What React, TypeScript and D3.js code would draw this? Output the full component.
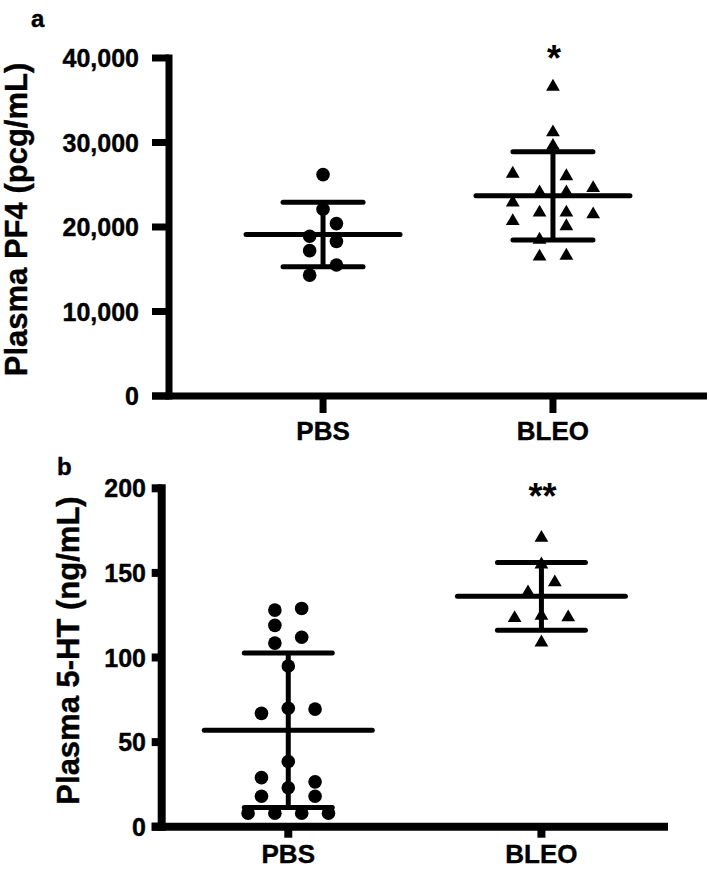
import React from "react";
import * as d3 from "d3";

// ---------- Data ----------
const categories = ["PBS", "BLEO"];

// Panel a: Plasma PF4 (pcg/mL)
const pf4PBS = [26200, 22100, 20400, 18900, 18300, 17200, 15500, 14300];
const pf4PBSLane = [0, 0, 1, -1, 1, -1, 1, -1];
const pf4BLEO = [36600, 31200, 29600, 26300, 26000, 24100, 24100, 24600, 22900, 21700, 21700, 21500, 20700, 20100, 18500, 16500, 16600];
const pf4BLEOLane = [0, 0, 0, -3, 1, -1, 1, 3, -3, -1, 1, 3, -3, 1, -1, -1, 1];
const pf4Ticks = [0, 10000, 20000, 30000, 40000];

// Panel b: Plasma 5-HT (ng/mL)
const htPBS = [128, 129, 119, 112, 108.5, 95, 67, 70, 69.5, 38.5, 29, 26.5, 23, 18, 18, 8, 8, 8, 8];
const htPBSLane = [-1, 1, -1, 1, -1, 0, -2, 0, 2, 0, -2, 2, 0, -2, 2, -3, -1, 1, 3];
const htBLEO = [170.7, 155, 144.4, 138.5, 124.7, 123.3, 123.7, 108.9];
const htBLEOLane = [0, 0, 1, -1, 0, -2, 2, 0];
const htTicks = [0, 50, 100, 150, 200];

const FONT = "'Liberation Sans', Arial, Helvetica, sans-serif";

type Group = { values: number[]; lanes: number[]; shape: "circle" | "triangle" };

function Panel(props: {
  letter: string;
  letterX: number;
  letterY: number;
  title: string;
  titleX: number;
  titleY: number;
  yDomain: [number, number];
  yRange: [number, number];
  xRange: [number, number];
  xPadding: number;
  ticks: number[];
  tickFormat: (v: number) => string;
  tickLen: number;
  tickLabelX: number;
  axisW: number;
  xTickLen: number;
  catLabelY: number;
  groups: Group[];
  meanHalf: number;
  capHalf: number;
  sig: string;
  sigY: number;
}) {
  const p = props;
  const y = d3.scaleLinear().domain(p.yDomain).range(p.yRange);
  const x = d3.scalePoint<string>().domain(categories).range(p.xRange).padding(p.xPadding);
  const lane = d3.scaleLinear().domain([0, 1]).range([0, 13.4]);
  const tri = d3.symbol().type(d3.symbolTriangle).size(82)();
  const x0 = p.xRange[0];
  const y0 = y(p.yDomain[0]);
  const yTop = y(p.yDomain[1]);
  const heavy = { stroke: "#000", strokeWidth: 0.4 };
  return (
    <g>
      <text x={p.letterX} y={p.letterY} fontFamily={FONT} fontWeight="bold" fontSize={24} {...heavy}>
        {p.letter}
      </text>
      <text
        transform={`translate(${p.titleX},${p.titleY}) rotate(-90)`}
        textAnchor="middle"
        fontFamily={FONT}
        fontWeight="bold"
        fontSize={31}
        {...heavy}
      >
        {p.title}
      </text>
      {/* y axis */}
      <line x1={x0} x2={x0} y1={yTop - p.axisW / 2} y2={y0 + p.axisW / 2} stroke="#000" strokeWidth={p.axisW} />
      {p.ticks.map((t) => (
        <g key={t}>
          <line x1={x0 - p.tickLen} x2={x0} y1={y(t)} y2={y(t)} stroke="#000" strokeWidth={p.axisW} />
          <text
            x={p.tickLabelX}
            y={y(t) + 9}
            textAnchor="end"
            fontFamily={FONT}
            fontWeight="bold"
            fontSize={25}
            {...heavy}
          >
            {p.tickFormat(t)}
          </text>
        </g>
      ))}
      {/* x axis */}
      <line x1={x0 - p.tickLen} x2={p.xRange[1]} y1={y0} y2={y0} stroke="#000" strokeWidth={p.axisW} />
      {categories.map((c) => (
        <g key={c}>
          <line x1={x(c)} x2={x(c)} y1={y0} y2={y0 + p.xTickLen} stroke="#000" strokeWidth={p.axisW} />
          <text x={x(c)} y={p.catLabelY} textAnchor="middle" fontFamily={FONT} fontWeight="bold" fontSize={26} {...heavy}>
            {c}
          </text>
        </g>
      ))}
      {/* points and error bars */}
      {p.groups.map((g, gi) => {
        const cx = x(categories[gi]) as number;
        const m = d3.mean(g.values) as number;
        const sd = d3.deviation(g.values) as number;
        return (
          <g key={gi}>
            {g.values.map((v, i) =>
              g.shape === "circle" ? (
                <circle key={i} cx={cx + lane(g.lanes[i])} cy={y(v)} r={6.8} fill="#000" />
              ) : (
                <path key={i} d={tri as string} transform={`translate(${cx + lane(g.lanes[i])},${y(v)})`} fill="#000" />
              )
            )}
            <line x1={cx - p.meanHalf} x2={cx + p.meanHalf} y1={y(m)} y2={y(m)} stroke="#000" strokeWidth={5} strokeLinecap="round" />
            <line x1={cx - p.capHalf} x2={cx + p.capHalf} y1={y(m + sd)} y2={y(m + sd)} stroke="#000" strokeWidth={5} strokeLinecap="round" />
            <line x1={cx - p.capHalf} x2={cx + p.capHalf} y1={y(m - sd)} y2={y(m - sd)} stroke="#000" strokeWidth={5} strokeLinecap="round" />
            <line x1={cx} x2={cx} y1={y(m + sd)} y2={y(m - sd)} stroke="#000" strokeWidth={5} />
          </g>
        );
      })}
      <text
        x={(x("BLEO") as number) + 1}
        y={p.sigY}
        textAnchor="middle"
        fontFamily={FONT}
        fontWeight="bold"
        fontSize={36}
      >
        {p.sig}
      </text>
    </g>
  );
}

export default function App() {
  const fmt = d3.format(",");
  return (
    <svg width={709} height={877} style={{ position: "absolute", left: 0, top: 0, background: "#fff" }}>
      <rect width={709} height={877} fill="#fff" />
      <Panel
        letter="a"
        letterX={31}
        letterY={27}
        title="Plasma PF4 (pcg/mL)"
        titleX={27}
        titleY={219.5}
        yDomain={[0, 40000]}
        yRange={[396, 58]}
        xRange={[169, 707]}
        xPadding={0.67}
        ticks={pf4Ticks}
        tickFormat={(v) => fmt(v)}
        tickLen={17}
        tickLabelX={139}
        axisW={7}
        xTickLen={17}
        catLabelY={440}
        groups={[
          { values: pf4PBS, lanes: pf4PBSLane, shape: "circle" },
          { values: pf4BLEO, lanes: pf4BLEOLane, shape: "triangle" },
        ]}
        meanHalf={77}
        capHalf={40}
        sig="*"
        sigY={71}
      />
      <Panel
        letter="b"
        letterX={57}
        letterY={475}
        title="Plasma 5-HT (ng/mL)"
        titleX={79}
        titleY={650.5}
        yDomain={[0, 200]}
        yRange={[826.7, 488.3]}
        xRange={[161.7, 668]}
        xPadding={0.5}
        ticks={htTicks}
        tickFormat={(v) => String(v)}
        tickLen={10}
        tickLabelX={146}
        axisW={8}
        xTickLen={11}
        catLabelY={863}
        groups={[
          { values: htPBS, lanes: htPBSLane, shape: "circle" },
          { values: htBLEO, lanes: htBLEOLane, shape: "triangle" },
        ]}
        meanHalf={84}
        capHalf={44}
        sig="**"
        sigY={509}
      />
    </svg>
  );
}
